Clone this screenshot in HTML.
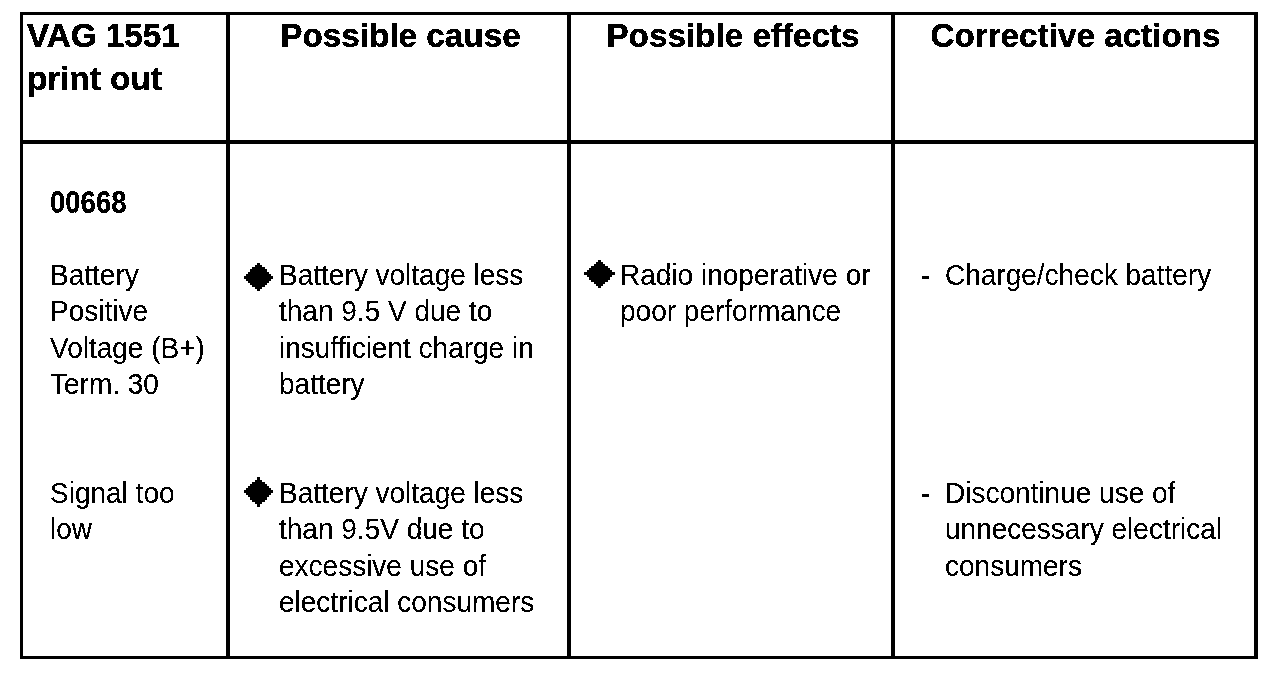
<!DOCTYPE html>
<html><head><meta charset="utf-8">
<style>
html,body{margin:0;padding:0;background:#fff;}
body{width:1280px;height:680px;position:relative;overflow:hidden;font-family:"Liberation Sans",sans-serif;color:#000;}
.h{position:absolute;background:#000;}
.t{position:absolute;white-space:pre;line-height:40px;will-change:transform;-webkit-text-stroke:0.15px #000;}
.bd{transform:scaleY(1.03);transform-origin:0 28.5px;}
.hd{font-size:33.25px;font-weight:bold;-webkit-text-stroke:0.4px #000;}
.c{text-align:center;}
.dm{position:absolute;}
.txt{position:absolute;left:0;top:0;width:1280px;height:680px;filter:url(#thr);}
</style></head><body>
<div class="h" style="left:20px;top:12px;width:1238px;height:3px"></div>
<div class="h" style="left:20px;top:140px;width:1238px;height:4px"></div>
<div class="h" style="left:20px;top:656px;width:1238px;height:3px"></div>
<div class="h" style="left:20px;top:12px;width:3px;height:647px"></div>
<div class="h" style="left:226px;top:12px;width:4px;height:647px"></div>
<div class="h" style="left:567px;top:12px;width:4px;height:647px"></div>
<div class="h" style="left:891px;top:12px;width:4px;height:647px"></div>
<div class="h" style="left:1254px;top:12px;width:4px;height:647px"></div>
<svg width="0" height="0" style="position:absolute"><filter id="thr" x="0" y="0" width="100%" height="100%"><feComponentTransfer><feFuncA type="discrete" tableValues="0 1"/></feComponentTransfer></filter></svg>
<div class="txt">
<div class="t hd" style="left:27px;top:16px">VAG 1551</div>
<div class="t hd" style="left:27px;top:59px">print out</div>
<div class="t hd c" style="left:232px;width:337px;top:16px">Possible cause</div>
<div class="t hd c" style="left:573px;width:320px;top:16px">Possible effects</div>
<div class="t hd c" style="left:896px;width:359px;top:16px">Corrective actions</div>
<div class="t" style="left:50px;top:184px;font-size:27.5px;font-weight:bold;-webkit-text-stroke:0.2px #000;transform:scaleY(1.13);transform-origin:0 28.5px">00668</div>
<div class="t bd" style="left:50px;top:256px;font-size:28px;">Battery</div>
<div class="t bd" style="left:50px;top:292px;font-size:28px;">Positive</div>
<div class="t bd" style="left:50px;top:329px;font-size:28px;">Voltage (B+)</div>
<div class="t bd" style="left:50px;top:365px;font-size:28px;">Term. 30</div>
<div class="t bd" style="left:50px;top:474px;font-size:28px;">Signal too</div>
<div class="t bd" style="left:50px;top:510px;font-size:28px;">low</div>
<div class="t bd" style="left:279px;top:256px;font-size:28px;">Battery voltage less</div>
<div class="t bd" style="left:279px;top:292px;font-size:28px;">than 9.5 V due to</div>
<div class="t bd" style="left:279px;top:329px;font-size:28px;">insufficient charge in</div>
<div class="t bd" style="left:279px;top:365px;font-size:28px;">battery</div>
<div class="t bd" style="left:279px;top:474px;font-size:28px;">Battery voltage less</div>
<div class="t bd" style="left:279px;top:510px;font-size:28px;">than 9.5V due to</div>
<div class="t bd" style="left:279px;top:547px;font-size:28px;">excessive use of</div>
<div class="t bd" style="left:279px;top:583px;font-size:28px;">electrical consumers</div>
<div class="t bd" style="left:620px;top:256px;font-size:28px;">Radio inoperative or</div>
<div class="t bd" style="left:620px;top:292px;font-size:28px;">poor performance</div>
<div class="h" style="left:922px;top:276px;width:7px;height:3px"></div>
<div class="t bd" style="left:945px;top:256px;font-size:28px;">Charge/check battery</div>
<div class="h" style="left:922px;top:494px;width:7px;height:3px"></div>
<div class="t bd" style="left:945px;top:474px;font-size:28px;">Discontinue use of</div>
<div class="t bd" style="left:945px;top:510px;font-size:28px;">unnecessary electrical</div>
<div class="t bd" style="left:945px;top:547px;font-size:28px;">consumers</div>
</div>
<svg style="position:absolute;left:0;top:0" width="1280" height="680" shape-rendering="crispEdges"><rect x="257" y="263" width="3" height="2"/><rect x="255" y="265" width="7" height="2"/><rect x="252" y="267" width="13" height="2"/><rect x="250" y="269" width="17" height="3"/><rect x="248" y="272" width="21" height="2"/><rect x="246" y="274" width="25" height="2"/><rect x="244" y="276" width="29" height="3"/><rect x="246" y="279" width="25" height="2"/><rect x="248" y="281" width="21" height="2"/><rect x="250" y="283" width="17" height="2"/><rect x="252" y="285" width="13" height="2"/><rect x="255" y="287" width="7" height="2"/><rect x="257" y="289" width="3" height="2"/><rect x="257" y="477" width="3" height="3"/><rect x="255" y="480" width="7" height="2"/><rect x="252" y="482" width="13" height="2"/><rect x="250" y="484" width="17" height="2"/><rect x="248" y="486" width="21" height="2"/><rect x="246" y="488" width="25" height="2"/><rect x="244" y="490" width="29" height="3"/><rect x="246" y="493" width="25" height="2"/><rect x="248" y="495" width="21" height="2"/><rect x="250" y="497" width="17" height="3"/><rect x="252" y="500" width="13" height="2"/><rect x="255" y="502" width="7" height="2"/><rect x="257" y="504" width="3" height="3"/><rect x="598" y="260" width="3" height="2"/><rect x="596" y="262" width="7" height="2"/><rect x="594" y="264" width="11" height="2"/><rect x="591" y="266" width="17" height="2"/><rect x="589" y="268" width="21" height="2"/><rect x="587" y="270" width="25" height="2"/><rect x="584" y="272" width="31" height="3"/><rect x="587" y="275" width="25" height="2"/><rect x="589" y="277" width="21" height="3"/><rect x="591" y="280" width="17" height="2"/><rect x="594" y="282" width="11" height="2"/><rect x="596" y="284" width="7" height="2"/><rect x="598" y="286" width="3" height="2"/></svg>
</body></html>
